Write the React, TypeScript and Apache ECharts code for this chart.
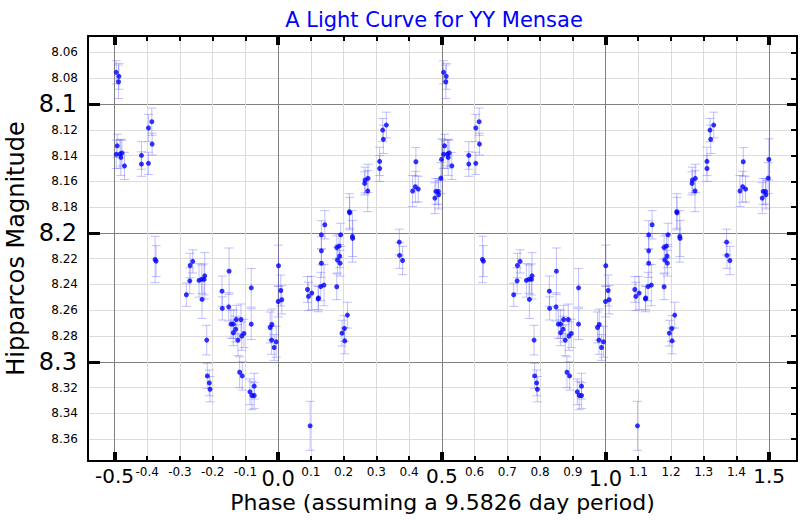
import React, { useEffect, useRef } from "react";
import * as echarts from "echarts";

// Phase (one cycle, -0.5..0.5), magnitude and 1-sigma error
const phases = [
  -0.4948, -0.4866, -0.4878, -0.4918, -0.4948, -0.4835, -0.4805, -0.4774, -0.4695,
  -0.4177, -0.4177, -0.3963, -0.3963, -0.386, -0.3851, -0.376, -0.373,
  -0.2805, -0.27, -0.269, -0.261, -0.2418, -0.2335, -0.2244, -0.2265, -0.2326,
  -0.2183, -0.2165, -0.2104, -0.2082, -0.1716, -0.1707, -0.15, -0.151,
  -0.1442, -0.1372, -0.1372, -0.1299, -0.128, -0.1229, -0.1177, -0.1137, -0.1116,
  -0.1098, -0.1046, -0.0823, -0.0823, -0.0863, -0.0802, -0.0732, -0.0732,
  -0.0244, -0.0192, -0.0201, -0.0122, -0.006, 0.001, 0.0, 0.008, 0.011,
  0.0976, 0.0896, 0.0927, 0.1027, 0.122, 0.123, 0.13, 0.14, 0.132, 0.132, 0.132,
  0.1424, 0.179, 0.179, 0.186, 0.191, 0.188, 0.181, 0.189, 0.2115, 0.2024, 0.195,
  0.2034, 0.2176, 0.2186, 0.2268, 0.2277, 0.2643, 0.2653, 0.2744, 0.2735, 0.31,
  0.31, 0.3213, 0.3192, 0.3305, 0.37, 0.371, 0.38, 0.4107, 0.4208, 0.419, 0.428,
  0.4787, 0.4817, 0.489, 0.49, 0.497, 0.499,
];
const magnitudes = [
  8.0754, 8.0785, 8.0827, 8.1324, 8.139, 8.1388, 8.1414, 8.138, 8.148,
  8.1399, 8.1466, 8.146, 8.1186, 8.1137, 8.1311, 8.2206, 8.2219,
  8.248, 8.2372, 8.2253, 8.2221, 8.2369, 8.2359, 8.2333, 8.2361, 8.2516,
  8.2832, 8.311, 8.3164, 8.3213, 8.2452, 8.2586, 8.2297, 8.2574,
  8.2708, 8.2708, 8.2775, 8.2747, 8.2672, 8.2832, 8.3081, 8.2672, 8.2801,
  8.311, 8.278, 8.2426, 8.2708, 8.3233, 8.3262, 8.3262, 8.3189,
  8.2734, 8.2711, 8.2832, 8.2889, 8.2845, 8.2255, 8.2532, 8.2447, 8.2519,
  8.3497, 8.2439, 8.2493, 8.2467, 8.2512, 8.2505, 8.2416, 8.2405, 8.2235, 8.2139, 8.2015,
  8.1937, 8.2418, 8.2113, 8.2102, 8.2015, 8.218, 8.2211, 8.2235, 8.2638, 8.2742, 8.2778,
  8.2838, 8.1836, 8.1844, 8.2027, 8.2043, 8.1616, 8.159, 8.1577, 8.1675, 8.1445,
  8.15, 8.1274, 8.1202, 8.1163, 8.2071, 8.2175, 8.2214, 8.1675, 8.1448, 8.1642, 8.166,
  8.173, 8.1678, 8.1678, 8.1704, 8.1575, 8.143,
];
const errors = [
  0.009, 0.01, 0.013, 0.009, 0.011, 0.011, 0.014, 0.01, 0.0105,
  0.0107, 0.0095, 0.0086, 0.0106, 0.0106, 0.0085, 0.018, 0.012,
  0.009, 0.01, 0.0095, 0.009, 0.013, 0.011, 0.018, 0.012, 0.0148,
  0.0115, 0.0097, 0.01, 0.0098, 0.0117, 0.009, 0.018, 0.011,
  0.011, 0.011, 0.01, 0.01, 0.011, 0.012, 0.012, 0.012, 0.011,
  0.011, 0.011, 0.015, 0.012, 0.01, 0.011, 0.01, 0.01,
  0.012, 0.012, 0.011, 0.01, 0.012, 0.016, 0.012, 0.012, 0.011,
  0.019, 0.01, 0.011, 0.013, 0.01, 0.009, 0.011, 0.016, 0.011, 0.011, 0.011,
  0.011, 0.01, 0.009, 0.009, 0.009, 0.009, 0.01, 0.01, 0.01, 0.01, 0.01,
  0.01, 0.014, 0.012, 0.02, 0.014, 0.009, 0.01, 0.011, 0.016, 0.011,
  0.01, 0.011, 0.009, 0.01, 0.01, 0.01, 0.011, 0.012, 0.011, 0.012, 0.01,
  0.012, 0.01, 0.01, 0.011, 0.012, 0.016,
];

const xMinorTicks = [-0.4, -0.3, -0.2, -0.1, 0.1, 0.2, 0.3, 0.4, 0.6, 0.7, 0.8, 0.9, 1.1, 1.2, 1.3, 1.4];
const xMajorTicks = [-0.5, 0.0, 0.5, 1.0, 1.5];
const yMinorTicks = [8.06, 8.08, 8.12, 8.14, 8.16, 8.18, 8.22, 8.24, 8.26, 8.28, 8.32, 8.34, 8.36];
const yMajorTicks = [8.1, 8.2, 8.3];

const X_MIN = -0.581;
const X_MAX = 1.585;
const Y_MIN = 8.0472;
const Y_MAX = 8.377;

const FONT = "DejaVu Sans";

export default function App() {
  const ref = useRef<HTMLDivElement>(null);

  useEffect(() => {
    if (!ref.current) return;
    const chart = echarts.init(ref.current, null, { renderer: "svg" });

    const data: number[][] = [];
    for (let i = 0; i < phases.length; i++) {
      for (const shift of [0, 1]) {
        const p = phases[i] + shift;
        if (p >= -0.5 && p <= 1.5) data.push([p, magnitudes[i], errors[i]]);
      }
    }

    const baseX = { type: "value", min: X_MIN, max: X_MAX, scale: true };
    const baseY = { type: "value", min: Y_MIN, max: Y_MAX, inverse: true, scale: true };

    chart.setOption({
      animation: false,
      backgroundColor: "#ffffff",
      title: {
        text: "A Light Curve for YY Mensae",
        left: 429,
        top: 4,
        textAlign: "center",
        textStyle: { color: "#0000ff", fontSize: 21, fontWeight: "normal", fontFamily: FONT },
      },
      grid: { left: 88, right: 3, top: 36, bottom: 59, outerBoundsMode: "none" },
      xAxis: [
        {
          ...baseX,
          position: "bottom",
          name: "Phase (assuming a 9.5826 day period)",
          nameLocation: "middle",
          nameGap: 30,
          nameTextStyle: { fontSize: 22, color: "#000", fontFamily: FONT },
          axisLine: { show: true, onZero: false, lineStyle: { color: "#000", width: 2 } },
          axisTick: { show: true, inside: true, length: 5, lineStyle: { color: "#000", width: 2 }, customValues: xMinorTicks },
          axisLabel: { show: true, fontSize: 12, color: "#000", fontFamily: FONT, margin: 5, customValues: xMinorTicks },
          splitLine: { show: true, lineStyle: { color: "#dcdcdc", width: 1 } },
        },
        {
          ...baseX,
          position: "bottom",
          axisLine: { show: false, onZero: false },
          axisTick: { show: true, inside: true, length: 9, lineStyle: { color: "#000", width: 4 }, customValues: xMajorTicks },
          axisLabel: {
            show: true,
            margin: 5,
            customValues: xMajorTicks,
            formatter: (v: number) => {
              const s = v.toFixed(1);
              return Math.abs(v - Math.round(v)) < 1e-6 ? `{low|${s}}` : `{high|${s}}`;
            },
            rich: {
              high: { fontSize: 20, color: "#000", fontFamily: FONT },
              low: { fontSize: 21, color: "#000", fontFamily: FONT, padding: [2, 0, 0, 0] },
            },
          },
          splitLine: { show: true, lineStyle: { color: "#808080", width: 1 } },
        },
        {
          ...baseX,
          position: "top",
          axisLine: { show: true, onZero: false, lineStyle: { color: "#000", width: 2 } },
          axisTick: { show: true, inside: true, length: 5, lineStyle: { color: "#000", width: 2 }, customValues: xMinorTicks },
          axisLabel: { show: false },
          splitLine: { show: false },
        },
        {
          ...baseX,
          position: "top",
          axisLine: { show: false, onZero: false },
          axisTick: { show: true, inside: true, length: 9, lineStyle: { color: "#000", width: 4 }, customValues: xMajorTicks },
          axisLabel: { show: false },
          splitLine: { show: false },
        },
      ],
      yAxis: [
        {
          ...baseY,
          position: "left",
          name: "Hipparcos Magnitude",
          nameLocation: "middle",
          nameGap: 60,
          nameTextStyle: { fontSize: 24, color: "#000", fontFamily: FONT },
          axisLine: { show: true, onZero: false, lineStyle: { color: "#000", width: 2 } },
          axisTick: { show: false, customValues: yMinorTicks },
          axisLabel: { show: true, fontSize: 12, color: "#000", fontFamily: FONT, margin: 10, customValues: yMinorTicks },
          splitLine: { show: true, lineStyle: { color: "#dcdcdc", width: 1 } },
        },
        {
          ...baseY,
          position: "left",
          axisLine: { show: false, onZero: false },
          axisTick: { show: true, inside: true, length: 12, lineStyle: { color: "#000", width: 3 }, customValues: yMajorTicks },
          axisLabel: { show: true, fontSize: 24, color: "#000", fontFamily: FONT, margin: 11, customValues: yMajorTicks },
          splitLine: { show: true, lineStyle: { color: "#808080", width: 1 } },
        },
        {
          ...baseY,
          position: "right",
          axisLine: { show: true, onZero: false, lineStyle: { color: "#000", width: 2 } },
          axisTick: { show: true, inside: true, length: 6, lineStyle: { color: "#000", width: 2 }, customValues: yMinorTicks },
          axisLabel: { show: false },
          splitLine: { show: false },
        },
        {
          ...baseY,
          position: "right",
          axisLine: { show: false, onZero: false },
          axisTick: { show: true, inside: true, length: 10, lineStyle: { color: "#000", width: 3 }, customValues: yMajorTicks },
          axisLabel: { show: false },
          splitLine: { show: false },
        },
      ],
      series: [
        {
          type: "custom",
          xAxisIndex: 0,
          yAxisIndex: 0,
          data,
          encode: { x: 0, y: 1 },
          z: 2,
          renderItem: (params: any, api: any) => {
            const x = api.value(0);
            const y = api.value(1);
            const e = api.value(2);
            const top = api.coord([x, y - e]);
            const bot = api.coord([x, y + e]);
            const hw = 4.5;
            const style = { stroke: "rgba(90,90,255,0.38)", lineWidth: 1, fill: null };
            return {
              type: "group",
              children: [
                { type: "line", shape: { x1: top[0], y1: top[1], x2: bot[0], y2: bot[1] }, style },
                { type: "line", shape: { x1: top[0] - hw, y1: top[1], x2: top[0] + hw, y2: top[1] }, style },
                { type: "line", shape: { x1: bot[0] - hw, y1: bot[1], x2: bot[0] + hw, y2: bot[1] }, style },
              ],
            };
          },
        },
        {
          type: "scatter",
          xAxisIndex: 0,
          yAxisIndex: 0,
          data: data.map((d) => [d[0], d[1]]),
          symbol: "circle",
          symbolSize: 5,
          itemStyle: { color: "#0000ff" },
          z: 3,
        },
      ],
    });

    return () => chart.dispose();
  }, []);

  return <div ref={ref} style={{ position: "fixed", left: 0, top: 0, width: 800, height: 520 }} />;
}
